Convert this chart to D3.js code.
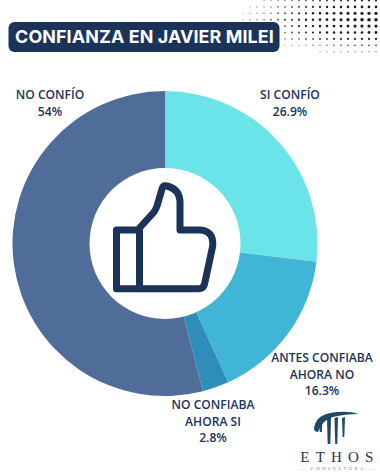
<!DOCTYPE html>
<html>
<head>
<meta charset="utf-8">
<script src="https://cdn.jsdelivr.net/npm/d3@7"></script>
<style>
  html, body { margin: 0; padding: 0; background: #fff; }
  svg { display: block; }
  .lbl { font-family: "Open Sans", sans-serif; font-weight: 600; font-size: 12.1px; fill: #1b3358; text-anchor: middle; }
</style>
</head>
<body>
<div id="chart"></div>
<script>
const categories = ['SI CONFÍO', 'ANTES CONFIABA AHORA NO', 'NO CONFIABA AHORA SI', 'NO CONFÍO'];
const values = [26.9, 16.3, 2.8, 54];
const colors = ['#6ae4e8', '#40b5d6', '#2f8db9', '#4f6d98'];
const labelLines = [
  ['SI CONFÍO', '26.9%'],
  ['ANTES CONFIABA', 'AHORA NO', '16.3%'],
  ['NO CONFIABA', 'AHORA SI', '2.8%'],
  ['NO CONFÍO', '54%']
];
const labelPos = [[290, 99], [322, 362], [213, 409], [50, 99]];

const width = 380;
const height = 475;
const navy = '#1b3358';

const svg = d3.select('#chart').append('svg')
  .attr('width', width)
  .attr('height', height)
  .attr('viewBox', `0 0 ${width} ${height}`);

// halftone dots behind the title, top right
const dots = svg.append('g').attr('class', 'dots');
for (let row = 0; row < 9; row++) {
  for (let col = 0; col < 20; col++) {
    const x = 243 + col * 7;
    const y = 0.5 + row * 6.4;
    const dx = (x - 372) / 135;
    const dy = (y - 20) / 36;
    const k = 1 - Math.sqrt(dx * dx + dy * dy);
    if (k <= 0.02) continue;
    dots.append('circle')
      .attr('cx', x)
      .attr('cy', y)
      .attr('r', 0.5 + k * 1.35)
      .attr('fill', '#1c2027')
      .attr('fill-opacity', Math.min(1, 0.5 + k));
  }
}

// title
svg.append('rect')
  .attr('x', 8.5).attr('y', 22)
  .attr('width', 271).attr('height', 30)
  .attr('rx', 6)
  .attr('fill', navy);
svg.append('text')
  .attr('x', 144.5).attr('y', 43)
  .attr('text-anchor', 'middle')
  .attr('fill', '#fff')
  .style('font-family', 'Inter, sans-serif')
  .style('font-weight', 700)
  .style('font-size', '17.9px')
  .style('letter-spacing', '0.1px')
  .text('CONFIANZA EN JAVIER MILEI');

// donut
const cx = 165;
const cy = 243.5;
const pie = d3.pie().sort(null).value((d) => d);
const arc = d3.arc().innerRadius(0).outerRadius(152.5);
const g = svg.append('g').attr('transform', `translate(${cx},${cy})`);
g.selectAll('path')
  .data(pie(values))
  .join('path')
  .attr('d', arc)
  .attr('fill', (d, i) => colors[i]);
g.append('circle').attr('r', 75.5).attr('fill', '#fff');

// thumbs up icon
svg.append('path')
  .attr('d', 'M139.5 288.7 H199 Q204 288.7 205 282 L212.7 246 Q214 231 200 230 H180 V201 Q179 189 167 186 Q163 185 162 189 L157 206 Q156 209 154 212 L139.5 228 M116.5 230 H139.5 V288.7 H116.5 Z')
  .attr('fill', 'none')
  .attr('stroke', navy)
  .attr('stroke-width', 7)
  .attr('stroke-linejoin', 'round')
  .attr('stroke-linecap', 'round');

// labels
labelLines.forEach((lines, i) => {
  const t = svg.append('text').attr('class', 'lbl');
  lines.forEach((s, j) => {
    t.append('tspan')
      .attr('x', labelPos[i][0])
      .attr('y', labelPos[i][1] + j * 16.5)
      .text(s);
  });
});

// logo
const logo = svg.append('g').attr('fill', '#1f4a63');
logo.append('path')
  .attr('d', 'M314 428 Q316 413 338 412 Q350 411 359 414 Q345 414 333 417 Q322 420 318 432 Q314 432 314 428 Z');
[[319, 421, 322.5, 419.5, 432], [327, 418, 331, 417, 444], [334.5, 418, 338, 417, 444], [342, 418, 345, 417, 437]].forEach((b) => {
  // tapered column
  logo.append('path')
    .attr('d', `M${b[0]} ${b[1]} L${b[2]} ${b[3]} L${b[2] - 0.7} ${b[4]} L${b[0] + 0.7} ${b[4]} Z`);
});
svg.append('text')
  .attr('x', 340).attr('y', 462)
  .attr('text-anchor', 'middle')
  .attr('fill', '#26374f')
  .style('font-family', '"Liberation Serif", serif')
  .style('font-size', '15px')
  .style('letter-spacing', '6.2px')
  .text('ETHOS');
svg.append('text')
  .attr('x', 338).attr('y', 470)
  .attr('text-anchor', 'middle')
  .attr('fill', '#7f8794')
  .style('font-family', '"Liberation Serif", serif')
  .style('font-size', '5px')
  .style('letter-spacing', '2.2px')
  .text('— CONSULTORA —');
</script>
</body>
</html>
